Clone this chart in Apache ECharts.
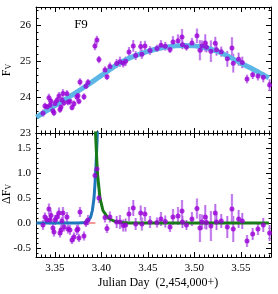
<!DOCTYPE html>
<html><head><meta charset="utf-8">
<script src="https://cdn.jsdelivr.net/npm/echarts@6/dist/echarts.min.js"></script>
<style>html,body{margin:0;padding:0;background:#fff}#c{width:278px;height:294px}</style>
</head><body><div id="c"></div>
<script>
// ---- data ----
const jd = [3.3371,3.3392,3.3414,3.3435,3.3446,3.3457,3.3478,3.3489,3.3500,3.3522,3.3543,3.3554,3.3565,3.3575,3.3586,3.3597,3.3629,3.3640,3.3661,3.3683,3.3704,3.3736,3.3747,3.3758,3.3769,3.3812,3.3833,3.3855,
  3.3930,3.3951,3.3973,3.4038,3.4059,3.4091,
  3.4163,3.4199,3.4234,3.4260,3.4296,3.4342,3.4368,3.4422,3.4435,3.4468,
  3.4522,3.4597,3.4640,3.4686,3.4737,3.4769,3.4823,3.4866,3.4871,3.4914,3.4973,3.5027,3.5059,3.5081,3.5116,3.5129,3.5177,3.5224,3.5237,3.5288,3.5353,3.5403,3.5417,3.5475,3.5514,3.5565,3.5626,3.5683,3.5740,3.5808];
const flux = [23.55,23.75,23.72,23.98,23.77,23.88,23.62,23.56,23.82,23.91,24.03,23.65,23.72,23.92,24.10,23.84,24.09,23.86,23.88,23.71,23.81,24.00,24.04,23.88,24.42,24.01,24.30,24.40,
  25.42,25.58,25.04,24.75,24.56,24.85,
  24.93,24.98,24.94,24.99,25.25,25.42,25.15,25.40,25.19,25.42,
  25.29,25.35,25.44,25.41,25.32,25.53,25.56,25.67,25.45,25.39,25.50,25.70,25.30,25.42,25.50,25.38,25.27,25.49,25.31,25.26,25.06,25.36,24.94,25.05,24.96,24.50,24.62,24.58,24.55,24.33];
const resid = [-0.04,0.12,0.06,0.28,0.06,0.15,-0.10,-0.18,0.06,0.12,0.20,-0.20,-0.14,0.04,0.20,-0.08,0.12,-0.12,-0.14,-0.34,-0.28,-0.14,-0.12,-0.30,0.22,-0.26,0.00,0.06,
  0.95,1.08,0.50,0.11,-0.11,0.12,
  0.02,0.02,-0.05,-0.04,0.18,0.30,-0.02,0.20,-0.02,0.18,
  0.02,0.01,0.08,0.03,-0.08,0.12,0.14,0.24,0.02,-0.04,0.08,0.29,-0.10,0.02,0.12,0.01,-0.06,0.20,0.02,0.04,-0.08,0.28,-0.12,0.08,0.04,-0.36,-0.22,-0.12,-0.04,-0.20];
const err = [0.10,0.09,0.08,0.11,0.09,0.10,0.08,0.09,0.10,0.09,0.11,0.09,0.10,0.08,0.12,0.09,0.10,0.09,0.10,0.08,0.09,0.10,0.09,0.08,0.10,0.09,0.08,0.10,
  0.12,0.12,0.10,0.10,0.09,0.11,
  0.12,0.14,0.12,0.13,0.14,0.16,0.12,0.15,0.13,0.14,
  0.12,0.10,0.14,0.12,0.10,0.16,0.18,0.22,0.12,0.10,0.14,0.20,0.28,0.15,0.24,0.14,0.30,0.18,0.16,0.14,0.22,0.30,0.26,0.18,0.16,0.12,0.12,0.12,0.14,0.16];
const fitJd = [3.33,3.34,3.35,3.36,3.37,3.38,3.39,3.40,3.41,3.42,3.43,3.44,3.45,3.46,3.47,3.48,3.49,3.50,3.51,3.52,3.53,3.54,3.55,3.56,3.57,3.58];
const fitFlux = [23.44,23.60,23.76,23.92,24.08,24.25,24.42,24.60,24.78,24.95,25.08,25.18,25.27,25.34,25.39,25.42,25.43,25.42,25.38,25.31,25.21,25.08,24.94,24.81,24.67,24.53];
const riseJd = [3.33,3.375,3.382,3.3848,3.3866,3.3884,3.3902,3.3920,3.3938,3.3953,3.3962];
const riseVal = [0,0,0.01,0.03,0.06,0.12,0.25,0.5,1.0,1.66,2.1];
const decayJd = [3.3932,3.3936,3.3946,3.3956,3.3984,3.4016,3.4070,3.4145,3.4220,3.4300,3.58];
const decayVal = [2.5,1.8,1.4,1.0,0.5,0.25,0.1,0.03,0.01,0,0];
const baseJd = [3.33,3.3935];
const baseVal = [0,0];
const xTicks = [3.35,3.40,3.45,3.50,3.55];
const yTopTicks = [23,24,25,26];
const yBotTicks = [-0.5,0.0,0.5,1.0,1.5];

// ---- chart ----
const X_MIN = 3.3296, X_MAX = 3.5823;
const TOP_MIN = 23, TOP_MAX = 26.5;
const BOT_MIN = -0.68, BOT_MAX = 1.8;
const xMinor = []; for (let k = 666; k <= 716; k++) xMinor.push(Math.round(k * 5) / 1000);
const yTopMinor = []; for (let k = 115; k <= 132; k++) yTopMinor.push(Math.round(k * 2) / 10);
const yBotMinor = []; for (let k = -6; k <= 17; k++) yBotMinor.push(k / 10);

const SERIF = 'Liberation Serif';
const lineCol = '#000';

function xAx(grid, pos, ticks, len, showLine, labels) {
  return {type:'value', gridIndex:grid, position:pos, min:X_MIN, max:X_MAX,
    axisLine:{show:showLine, onZero:false, lineStyle:{color:lineCol, width:1}},
    axisTick:{show:true, inside:true, length:len, customValues:ticks, lineStyle:{color:lineCol, width:1}},
    axisLabel: labels ? {show:true, customValues:xTicks, formatter:v => Number(v).toFixed(2), margin:6, color:'#000', fontFamily:SERIF, fontSize:11} : {show:false},
    splitLine:{show:false}, minorTick:{show:false}};
}
function yAx(grid, pos, min, max, ticks, len, showLine, labelVals, digits) {
  return {type:'value', gridIndex:grid, position:pos, min:min, max:max,
    axisLine:{show:showLine, onZero:false, lineStyle:{color:lineCol, width:1}},
    axisTick:{show:true, inside:true, length:len, customValues:ticks, lineStyle:{color:lineCol, width:1}},
    axisLabel: labelVals ? {show:true, customValues:labelVals, formatter:v => Number(v).toFixed(digits), margin:5, color:'#000', fontFamily:SERIF, fontSize:11} : {show:false},
    splitLine:{show:false}, minorTick:{show:false}};
}

function errRender(params, api) {
  const x = api.value(0), lo = api.value(1), hi = api.value(2);
  const p1 = api.coord([x, lo]), p2 = api.coord([x, hi]);
  const shape = {x1:p1[0], y1:p1[1], x2:p2[0], y2:p2[1]};
  return {type:'group', children:[
    {type:'line', shape:shape, style:{stroke:'rgba(208,150,242,0.85)', lineWidth:2.4}},
    {type:'line', shape:shape, style:{stroke:'#a94ae3', lineWidth:0.8}}
  ]};
}

const upperErr = jd.map((x, i) => [x, flux[i] - err[i], flux[i] + err[i]]);
const lowerErr = jd.map((x, i) => [x, resid[i] - err[i], resid[i] + err[i]]);
const upperPts = jd.map((x, i) => [x, flux[i]]);
const lowerPts = jd.map((x, i) => [x, resid[i]]);
const fitLine = fitJd.map((x, i) => [x, fitFlux[i]]);
const riseLine = riseJd.map((x, i) => [x, riseVal[i]]);
const decayLine = decayJd.map((x, i) => [x, decayVal[i]]);
const baseLine = baseJd.map((x, i) => [x, baseVal[i]]);

const chart = echarts.init(document.getElementById('c'), null, {renderer:'canvas'});
chart.setOption({
  animation:false,
  backgroundColor:'#fff',
  grid:[
    {left:36, right:7, top:7, height:126},
    {left:36, right:7, top:133, height:124}
  ],
  xAxis:[
    xAx(0,'bottom',xTicks,5,true,false),
    xAx(0,'bottom',xMinor,2.5,false,false),
    xAx(0,'top',xTicks,5,true,false),
    xAx(0,'top',xMinor,2.5,false,false),
    xAx(1,'bottom',xTicks,5,true,true),
    xAx(1,'bottom',xMinor,2.5,false,false),
    xAx(1,'top',xTicks,5,true,false),
    xAx(1,'top',xMinor,2.5,false,false)
  ],
  yAxis:[
    yAx(0,'left',TOP_MIN,TOP_MAX,yTopTicks,5,true,yTopTicks,0),
    yAx(0,'left',TOP_MIN,TOP_MAX,yTopMinor,2.5,false,null,0),
    yAx(0,'right',TOP_MIN,TOP_MAX,yTopTicks,5,true,null,0),
    yAx(0,'right',TOP_MIN,TOP_MAX,yTopMinor,2.5,false,null,0),
    yAx(1,'left',BOT_MIN,BOT_MAX,yBotTicks,5,true,yBotTicks,1),
    yAx(1,'left',BOT_MIN,BOT_MAX,yBotMinor,2.5,false,null,1),
    yAx(1,'right',BOT_MIN,BOT_MAX,yBotTicks,5,true,null,1),
    yAx(1,'right',BOT_MIN,BOT_MAX,yBotMinor,2.5,false,null,1)
  ],
  series:[
    {type:'custom', xAxisIndex:0, yAxisIndex:0, renderItem:errRender, data:upperErr, clip:true, z:2},
    {type:'line', xAxisIndex:0, yAxisIndex:0, data:fitLine, smooth:true, showSymbol:false, symbol:'none',
      lineStyle:{color:'#5cb6e6', width:5}, z:3},
    {type:'scatter', xAxisIndex:0, yAxisIndex:0, data:upperPts, symbol:'circle', symbolSize:5,
      itemStyle:{color:'#9a00d6'}, z:4},
    {type:'line', xAxisIndex:4, yAxisIndex:4, data:baseLine, showSymbol:false, symbol:'none',
      lineStyle:{color:'#e8352c', width:1}, z:2},
    {type:'custom', xAxisIndex:4, yAxisIndex:4, renderItem:errRender, data:lowerErr, clip:true, z:3},
    {type:'line', xAxisIndex:4, yAxisIndex:4, data:riseLine, showSymbol:false, symbol:'none',
      lineStyle:{color:'#1f77bb', width:3}, z:4},
    {type:'line', xAxisIndex:4, yAxisIndex:4, data:decayLine, showSymbol:false, symbol:'none',
      lineStyle:{color:'#187a18', width:3}, z:4},
    {type:'scatter', xAxisIndex:4, yAxisIndex:4, data:lowerPts, symbol:'circle', symbolSize:5,
      itemStyle:{color:'#9a00d6'}, z:5}
  ],
  graphic:[
    {type:'text', x:81, y:25, z:10, style:{text:'F9', fontFamily:SERIF, fontSize:13, fill:'#000', align:'center', verticalAlign:'middle'}},
    {type:'text', x:158, y:283, z:10, style:{text:'Julian Day  (2,454,000+)', fontFamily:SERIF, fontSize:12, fill:'#000', align:'center', verticalAlign:'middle'}},
    {type:'text', x:7, y:70, rotation:Math.PI/2, z:10, style:{text:'F{s|V}', fontFamily:SERIF, fontSize:12, fill:'#000', align:'center', verticalAlign:'middle',
      rich:{s:{fontFamily:SERIF, fontSize:8, fill:'#000', verticalAlign:'bottom', padding:[4,0,0,0]}}}},
    {type:'text', x:7, y:194, rotation:Math.PI/2, z:10, style:{text:'ΔF{s|V}', fontFamily:SERIF, fontSize:12, fill:'#000', align:'center', verticalAlign:'middle',
      rich:{s:{fontFamily:SERIF, fontSize:8, fill:'#000', verticalAlign:'bottom', padding:[4,0,0,0]}}}}
  ]
});
</script>
</body></html>
